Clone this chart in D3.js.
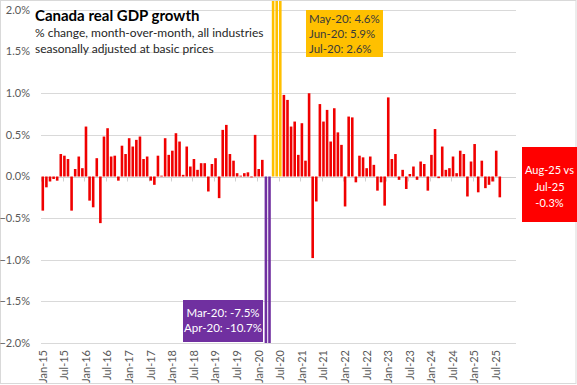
<!DOCTYPE html>
<html>
<head>
<meta charset="utf-8">
<script src="https://cdn.jsdelivr.net/npm/d3@7"></script>
<style>
    body { margin: 0; background: #fff; }
    text { font-family: Lato, "Open Sans", sans-serif; }
</style>
</head>
<body>
<script>
// Monthly % change in real GDP, Jan-15 .. Aug-25
const growth = [
    -0.41, -0.13, -0.06, -0.03, -0.05, 0.27, 0.25, 0.21, -0.41, 0.09, 0.24, 0.10,   // 2015
    0.60, -0.29, -0.37, 0.22, -0.56, 0.48, 0.58, 0.24, 0.25, -0.05, 0.37, 0.27,     // 2016
    0.46, 0.36, 0.44, 0.48, 0.21, 0.24, -0.05, -0.10, 0.25, 0.01, 0.46, 0.26,       // 2017
    0.31, 0.52, 0.42, 0.02, 0.36, 0.12, 0.21, 0.08, 0.16, 0.16, -0.18, 0.15,        // 2018
    0.22, -0.26, 0.56, 0.62, 0.27, 0.19, 0.04, 0.01, 0.04, 0.05, -0.01, 0.50,       // 2019
    0.09, 0.20, -7.5, -10.7, 4.6, 5.9, 2.6, 0.98, 0.92, 0.60, 0.66, 0.26,           // 2020
    0.64, 0.19, 1.00, -0.98, -0.30, 0.87, 0.66, 0.80, 0.42, 0.82, 0.53, 0.38,       // 2021
    -0.36, 0.72, 0.71, -0.07, 0.25, 0.23, 0.10, 0.24, 0.14, -0.17, -0.07, -0.35,    // 2022
    0.95, 0.21, 0.27, -0.04, 0.08, -0.15, 0.03, 0.12, -0.04, 0.18, 0.15, -0.17,     // 2023
    0.26, 0.57, -0.02, 0.36, 0.08, 0.10, 0.24, 0.04, 0.31, 0.27, -0.24, 0.18,       // 2024
    0.39, -0.19, 0.19, -0.14, -0.10, -0.06, 0.31, -0.25                             // 2025
];
const yTicks = [-2.0, -1.5, -1.0, -0.5, 0.0, 0.5, 1.0, 1.5, 2.0];
const riseMonths = ["May-20", "Jun-20", "Jul-20"];
const dropMonths = ["Mar-20", "Apr-20"];
const riseNote = ["May-20: 4.6%", "Jun-20: 5.9%", "Jul-20: 2.6%"];
const dropNote = ["Mar-20: -7.5%", "Apr-20: -10.7%"];
const latestNote = ["Aug-25 vs", "Jul-25", "-0.3%"];
const titleText = "Canada real GDP growth";
const subtitleLines = ["% change, month-over-month, all industries", "seasonally adjusted at basic prices"];

const width = 577, height = 385;
const fmt = d3.timeFormat("%b-%y");
// category slots run to Dec-25, data stops at Aug-25
const slotDates = d3.timeMonths(new Date(2015, 0, 1), new Date(2026, 0, 1));
const slots = slotDates.map(fmt);
const data = growth.map((v, i) => ({ month: slots[i], date: slotDates[i], value: v }));

const svg = d3.select("body").append("svg")
    .attr("width", width)
    .attr("height", height);

// chart border
svg.append("rect")
    .attr("x", 0.5).attr("y", 0.5)
    .attr("width", width - 1.5).attr("height", height - 2)
    .attr("fill", "#fff")
    .attr("stroke", "#d9d9d9");

const x = d3.scaleBand().domain(slots).range([41, 516]).paddingInner(0.28).paddingOuter(0.14);
const y = d3.scaleLinear().domain([-2, 2]).range([343, 10]);

// gridlines
svg.append("g").selectAll("line")
    .data(yTicks.filter(d => d !== 0))
    .join("line")
    .attr("x1", 41).attr("x2", 516)
    .attr("y1", d => Math.round(y(d)) + 0.5)
    .attr("y2", d => Math.round(y(d)) + 0.5)
    .attr("stroke", "#d9d9d9");

// y labels
svg.append("g").selectAll("text")
    .data(yTicks)
    .join("text")
    .attr("x", 30)
    .attr("y", d => y(d))
    .attr("dy", "0.35em")
    .attr("text-anchor", "end")
    .attr("font-size", 11)
    .attr("fill", "#595959")
    .text(d => d3.format(".1f")(d) + "%");

// bars, clipped to plot area
svg.append("clipPath").attr("id", "plot")
    .append("rect").attr("x", 0).attr("y", 1).attr("width", width).attr("height", y(-2) - 1);

const barColor = d => riseMonths.includes(d.month) ? "#ffc000"
    : dropMonths.includes(d.month) ? "#7030a0" : "#f00000";

const zeroY = Math.round(y(0)) + 0.5;

// zero axis line with ticks at Jan/Jul boundaries
const labelled = slotDates.filter(d => d.getMonth() % 6 === 0);
svg.append("line")
    .attr("x1", 41).attr("x2", 516)
    .attr("y1", zeroY).attr("y2", zeroY)
    .attr("stroke", "#d0d0d0");
svg.append("g").selectAll("line")
    .data(labelled)
    .join("line")
    .attr("x1", d => Math.round(x(fmt(d)) - x.step() * 0.14) + 0.5)
    .attr("x2", d => Math.round(x(fmt(d)) - x.step() * 0.14) + 0.5)
    .attr("y1", zeroY).attr("y2", zeroY + 4)
    .attr("stroke", "#d0d0d0");

svg.append("g").attr("clip-path", "url(#plot)")
    .selectAll("rect")
    .data(data)
    .join("rect")
    .attr("x", d => x(d.month))
    .attr("width", x.bandwidth())
    .attr("y", d => Math.min(y(d.value), y(0)))
    .attr("height", d => Math.abs(y(d.value) - y(0)))
    .attr("fill", barColor);

// x labels, rotated
svg.append("g").selectAll("text")
    .data(labelled)
    .join("text")
    .attr("transform", d => `translate(${x(fmt(d)) + x.bandwidth() / 2},350) rotate(-90)`)
    .attr("dy", "0.35em")
    .attr("text-anchor", "end")
    .attr("font-size", 11)
    .attr("fill", "#595959")
    .text(d => fmt(d));

// title and subtitle
svg.append("text")
    .attr("x", 35).attr("y", 21)
    .attr("font-size", 15)
    .attr("font-weight", "bold")
    .attr("fill", "#000")
    .text(titleText);
svg.append("g").selectAll("text")
    .data(subtitleLines)
    .join("text")
    .attr("x", 35)
    .attr("y", (d, i) => 37 + i * 16)
    .attr("font-size", 12)
    .attr("fill", "#262626")
    .text(d => d);

// yellow note
const riseBox = svg.append("g").attr("transform", "translate(306,10)");
riseBox.append("rect").attr("width", 77).attr("height", 47).attr("fill", "#ffc000");
riseBox.selectAll("text")
    .data(riseNote)
    .join("text")
    .attr("x", 3)
    .attr("y", (d, i) => 13 + i * 15)
    .attr("font-size", 11.5)
    .attr("fill", "#3a3a3a")
    .text(d => d);

// purple note
const dropBox = svg.append("g").attr("transform", "translate(183,300)");
dropBox.append("rect").attr("width", 80).attr("height", 42).attr("fill", "#7030a0");
dropBox.selectAll("text")
    .data(dropNote)
    .join("text")
    .attr("x", 40)
    .attr("y", (d, i) => 17 + i * 15)
    .attr("text-anchor", "middle")
    .attr("font-size", 11.5)
    .attr("fill", "#fff")
    .text(d => d);

// latest month note
const lastBox = svg.append("g").attr("transform", "translate(522,147)");
lastBox.append("rect").attr("width", 55).attr("height", 75).attr("fill", "#ff0000");
lastBox.selectAll("text")
    .data(latestNote)
    .join("text")
    .attr("x", 27.5)
    .attr("y", (d, i) => 27 + i * 16.5)
    .attr("text-anchor", "middle")
    .attr("font-size", 11)
    .attr("fill", "#fff")
    .text(d => d);
</script>
</body>
</html>
